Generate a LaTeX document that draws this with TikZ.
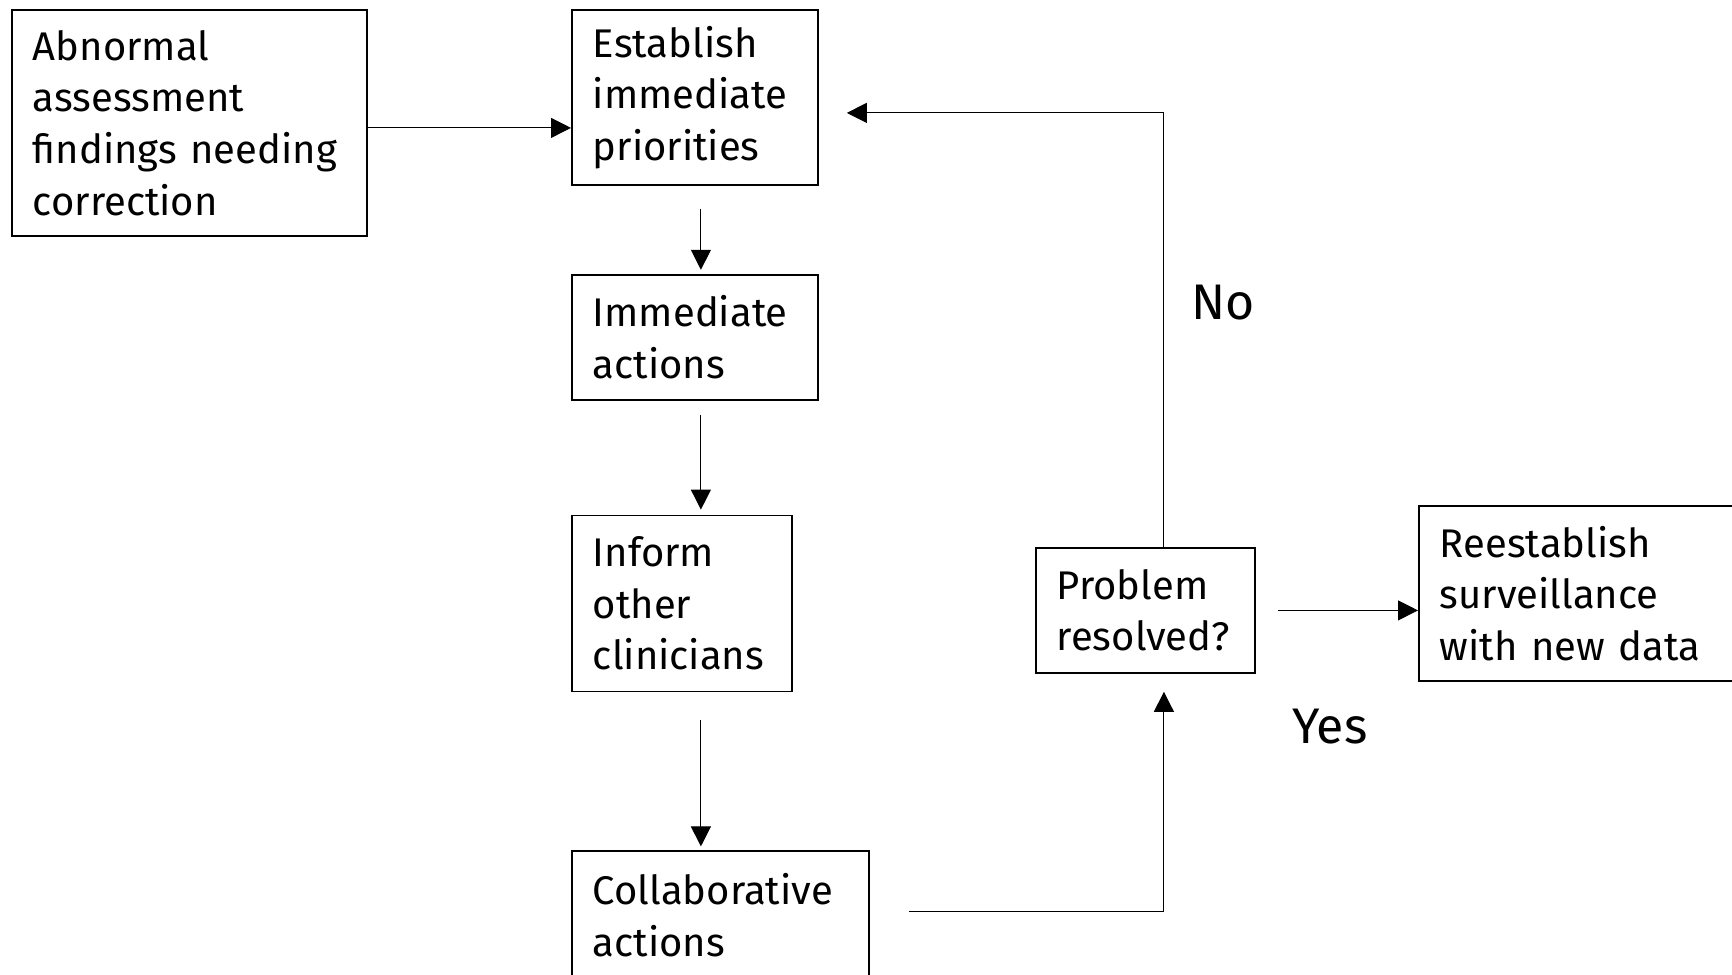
\documentclass[tikz,border=0pt]{standalone}
\usepackage{fontspec}
\setmainfont{Fira Sans}
\usetikzlibrary{arrows.meta,positioning}

\begin{document}
\begin{tikzpicture}[->,>={Triangle[length=10pt,width=10pt]},line width=0.55pt,
        box/.style={draw,rectangle,line width=0.9pt,align=left,anchor=north west,
          inner xsep=10.5pt,inner ysep=0pt,font=\fontsize{20}{25.8}\selectfont},
        answer/.style={font=\fontsize{25}{30}\selectfont}]
    \useasboundingbox (0,0) rectangle (866pt,-487pt);
    % left column
    \node[box,minimum height=113pt,text width=156.5pt] (abn) at (5.5pt,-4.5pt)
        {Abnormal\\assessment\\findings~needing\\correction};
    \node[box,minimum height=87.5pt,text width=102pt] (est) at (285.5pt,-4.5pt)
        {Establish\\immediate\\priorities};
    \node[box,minimum height=62.5pt,text width=102pt] (imm) [below=44pt of est.south west,anchor=north west]
        {Immediate\\actions};
    \node[box,minimum height=88pt,text width=89pt] (inf) [below=57pt of imm.south west,anchor=north west]
        {Inform\\other\\clinicians};
    \node[box,minimum height=64pt,text width=127.5pt] (col) [below=79pt of inf.south west,anchor=north west]
        {Collaborative\\actions};
    % decision
    \node[box,minimum height=62.5pt,text width=88.5pt] (prob) at (517.5pt,-273.5pt)
        {Problem\\resolved?};
    \node[box,minimum height=87.5pt,text width=137pt] (rees) at (709pt,-252.5pt)
        {Reestablish\\surveillance\\with~new~data};
    \node[answer] (no) at (611.5pt,-151.25pt) {No};
    \node[answer] (yes) at (665pt,-363.5pt) {Yes};

    \draw ([yshift=-2.5pt]abn.east) -- ([yshift=-2.5pt]abn.east -| est.west);
    \draw[shorten <=11.5pt,shorten >=2pt] ([xshift=3pt]est.south) -- ([xshift=3pt]est.south |- imm.north);
    \draw[shorten <=7pt,shorten >=2.5pt] ([xshift=3pt]imm.south) -- ([xshift=3pt]imm.south |- inf.north);
    \draw[shorten <=14pt,shorten >=2pt] ([xshift=3pt]imm.south |- inf.south) -- ([xshift=3pt]imm.south |- col.north);
    \draw[shorten <=19.5pt,shorten >=9pt] ([yshift=2pt]col.east) -| ([xshift=9.25pt]prob.south);
    \draw[shorten <=11pt] (prob.east) -- (prob.east -| rees.west);
    \draw[shorten >=14pt] ([xshift=9.25pt]prob.north) |- ([yshift=-7.75pt]est.east);
\end{tikzpicture}
\end{document}
